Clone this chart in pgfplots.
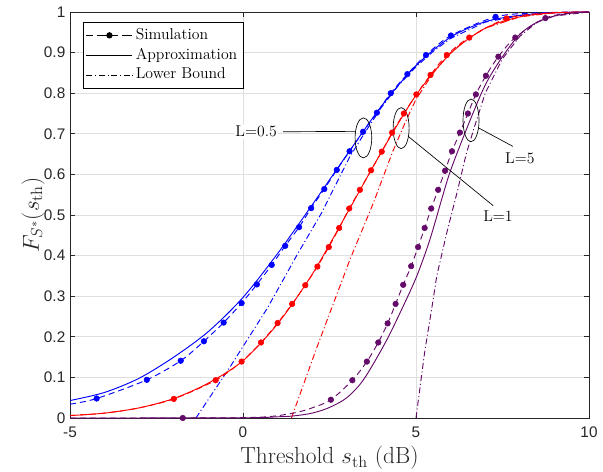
\documentclass[border=0pt]{standalone}
\usepackage{fontspec}
\usepackage{pgfplots}
\pgfplotsset{compat=1.18}
\newfontfamily\tickfont{Liberation Sans}
\definecolor{bl}{rgb}{0,0,1}
\definecolor{rd}{rgb}{1,0,0}
\definecolor{pu}{RGB}{100,10,105}
\definecolor{axc}{RGB}{38,38,38}
\definecolor{gridc}{RGB}{223,223,223}
\tikzset{
  simline/.style={line width=0.7pt, dash pattern=on 4.5pt off 3pt},
  apline/.style={line width=0.7pt},
  lbline/.style={line width=0.7pt, dash pattern=on 4.5pt off 2pt on 0.8pt off 2pt},
}
\pgfplotsset{
  simleg/.style={legend image code/.code={\draw[##1, dash pattern=on 5pt off 3pt on 8pt off 3pt] (0pt,0pt) -- (34.5pt,0pt); \draw[##1, only marks] plot coordinates {(17.25pt,0pt)};}},
  lineleg/.style={legend image code/.code={\draw[##1] (0pt,0pt) -- (34.5pt,0pt);}},
}
\begin{document}
\begin{tikzpicture}
\begin{axis}[
  scale only axis, width=389.25pt, height=304.5pt,
  xmin=-5, xmax=10, ymin=0, ymax=1,
  xtick={-5,0,5,10},
  ytick={0,0.1,0.2,0.3,0.4,0.5,0.6,0.7,0.8,0.9,1},
  yticklabels={0,0.1,0.2,0.3,0.4,0.5,0.6,0.7,0.8,0.9,1},
  grid=major, major grid style={gridc, line width=0.5pt},
  axis line style={axc, line width=0.5pt},
  tick style={axc, line width=0.5pt},
  tick align=inside, major tick length=4pt,
  ticklabel style={font=\tickfont\fontsize{11.5}{12}\selectfont, text=axc},
  xticklabel style={yshift=-3pt},
  /pgf/number format/assume math mode=true,
  xlabel={Threshold $s_{\mathrm{th}}$ (dB)},
  ylabel={$F_{S^{*}}(s_{\mathrm{th}})$},
  label style={font=\fontsize{17.5}{20}\selectfont, text=axc},
  x label style={at={(axis description cs:0.5,-0.0985)}, anchor=center},
  y label style={at={(axis description cs:-0.0713,0.5)}, anchor=center},
  legend cell align=left,
  legend style={at={(axis description cs:0.025,0.976)}, anchor=north west,
    draw=black, fill=white, line width=0.5pt,
    font=\fontsize{11.8}{13}\selectfont,
    nodes={inner sep=2.2pt, text height=8.6pt, text depth=2.9pt},
    inner xsep=2pt, inner ysep=2pt, row sep=-1pt},
]
\addlegendimage{black, simline, mark=*, mark size=2pt, mark options={solid}, simleg}
\addlegendentry{Simulation}
\addlegendimage{black, apline, lineleg}
\addlegendentry{Approximation}
\addlegendimage{black, lbline, lineleg}
\addlegendentry{Lower Bound}

% ---------- L = 0.5 (blue) ----------
\addplot[bl, apline, smooth, forget plot] coordinates {
(-5,0.043)(-4,0.063)(-3,0.098)(-2,0.150)(-1,0.213)(0,0.297)(1,0.405)(2,0.525)(3,0.648)(4,0.768)(5,0.868)(6,0.938)(7,0.976)(8,0.992)(9,0.998)(10,1)};
\addplot[bl, simline, smooth, forget plot] coordinates {
(-5,0.034)(-4.23,0.048)(-2.78,0.094)(-1.80,0.141)(-1.13,0.189)(-0.56,0.235)(-0.04,0.283)(0.40,0.329)(0.83,0.377)(1.22,0.424)(1.62,0.470)(1.97,0.517)(2.35,0.564)(2.71,0.611)(3.08,0.657)(3.47,0.705)(3.87,0.752)(4.27,0.800)(4.75,0.847)(5.29,0.894)(6.01,0.942)(7.30,0.988)(8.5,0.998)(10,1)};
\addplot[bl, only marks, mark=*, mark size=2.1pt, forget plot] coordinates {
(-4.23,0.048)(-2.78,0.094)(-1.80,0.141)(-1.13,0.189)(-0.56,0.235)(-0.04,0.283)(0.40,0.329)(0.83,0.377)(1.22,0.424)(1.62,0.470)(1.97,0.517)(2.35,0.564)(2.71,0.611)(3.08,0.657)(3.47,0.705)(3.87,0.752)(4.27,0.800)(4.75,0.847)(5.29,0.894)(6.01,0.942)(7.30,0.988)};
\addplot[bl, lbline, forget plot] coordinates {
(-1.36,0)(-0.38,0.125)(0.685,0.268)(1.16,0.34)(1.55,0.40)(2.27,0.505)(3.09,0.644)(3.5,0.70)(4,0.765)(4.5,0.82)(5,0.865)(5.5,0.903)(6,0.935)(7,0.975)(8,0.991)(9,0.998)(10,1)};

% ---------- L = 1 (red) ----------
\addplot[rd, apline, smooth, forget plot] coordinates {
(-5,0.006)(-4,0.012)(-3,0.025)(-2,0.048)(-1,0.086)(0,0.141)(1,0.232)(2,0.354)(3,0.503)(4,0.655)(5,0.795)(6,0.898)(7,0.960)(8,0.988)(9,0.998)(10,1)};
\addplot[rd, simline, smooth, forget plot] coordinates {
(-5,0.006)(-4,0.012)(-3,0.025)(-2.00,0.047)(-0.79,0.093)(-0.04,0.139)(0.52,0.186)(1.00,0.234)(1.42,0.281)(1.80,0.327)(2.15,0.373)(2.48,0.421)(2.78,0.468)(3.07,0.516)(3.38,0.562)(3.70,0.610)(4.01,0.656)(4.31,0.703)(4.65,0.750)(5.01,0.797)(5.42,0.845)(5.89,0.894)(6.54,0.937)(7.62,0.984)(8.7,0.997)(10,1)};
\addplot[rd, only marks, mark=*, mark size=2.1pt, forget plot] coordinates {
(-2.00,0.047)(-0.79,0.093)(-0.04,0.139)(0.52,0.186)(1.00,0.234)(1.42,0.281)(1.80,0.327)(2.15,0.373)(2.48,0.421)(2.78,0.468)(3.07,0.516)(3.38,0.562)(3.70,0.610)(4.01,0.656)(4.31,0.703)(4.65,0.750)(5.01,0.797)(5.42,0.845)(5.89,0.894)(6.54,0.937)(7.62,0.984)};
\addplot[rd, lbline, forget plot] coordinates {
(1.40,0)(2.11,0.168)(2.55,0.268)(3.09,0.39)(3.77,0.53)(4.33,0.657)(4.7,0.73)(5,0.785)(5.5,0.85)(6,0.9)(6.5,0.935)(7,0.96)(8,0.988)(9,0.998)(10,1)};

% ---------- L = 5 (purple) ----------
\addplot[pu, apline, smooth, forget plot] coordinates {
(-5,0)(0,0.0005)(1,0.003)(1.45,0.005)(2,0.012)(2.5,0.026)(3,0.05)(3.48,0.094)(4.11,0.185)(4.6,0.27)(5.02,0.349)(5.4,0.439)(5.74,0.538)(6,0.61)(6.5,0.72)(7,0.82)(7.5,0.89)(8,0.945)(8.5,0.975)(9,0.99)(9.5,0.997)(10,1)};
\addplot[pu, simline, smooth, forget plot] coordinates {
(-5,0)(-1.74,0)(0.5,0.002)(1.45,0.012)(2.0,0.025)(2.54,0.045)(3.16,0.093)(3.58,0.139)(3.91,0.186)(4.18,0.233)(4.41,0.281)(4.63,0.328)(4.86,0.374)(5.06,0.421)(5.25,0.468)(5.44,0.516)(5.64,0.562)(5.84,0.609)(6.04,0.657)(6.27,0.703)(6.50,0.750)(6.73,0.797)(7.02,0.843)(7.38,0.890)(7.87,0.937)(8.74,0.985)(9.5,0.998)(10,1)};
\addplot[pu, only marks, mark=*, mark size=2.1pt, forget plot] coordinates {
(-1.74,0)(2.54,0.045)(3.16,0.093)(3.58,0.139)(3.91,0.186)(4.18,0.233)(4.41,0.281)(4.63,0.328)(4.86,0.374)(5.06,0.421)(5.25,0.468)(5.44,0.516)(5.64,0.562)(5.84,0.609)(6.04,0.657)(6.27,0.703)(6.50,0.750)(6.73,0.797)(7.02,0.843)(7.38,0.890)(7.87,0.937)(8.74,0.985)};
\addplot[pu, lbline, forget plot] coordinates {
(5,0)(5.1,0.065)(5.26,0.168)(5.45,0.267)(5.6,0.35)(5.9,0.46)(6.2,0.56)(6.45,0.65)(6.7,0.72)(7.0,0.80)(7.5,0.885)(8,0.94)(8.5,0.975)(9,0.99)(10,1)};

% ---------- annotations ----------
\draw[black, line width=0.5pt] (axis cs:3.48,0.69) ellipse [x radius=6.25pt, y radius=15pt];
\draw[black, line width=0.5pt] (axis cs:4.57,0.714) ellipse [x radius=6pt, y radius=15.4pt];
\draw[black, line width=0.5pt] (axis cs:6.59,0.733) ellipse [x radius=6pt, y radius=16pt];
\draw[black, line width=0.5pt] (axis cs:1.16,0.705) -- (axis cs:3.24,0.706);
\draw[black, line width=0.5pt] (axis cs:4.77,0.694) -- (axis cs:7.23,0.523);
\draw[black, line width=0.5pt] (axis cs:6.82,0.714) -- (axis cs:7.80,0.669);
\node[fill=white, inner sep=1pt, font=\fontsize{11.8}{13}\selectfont] at (axis cs:0.38,0.705) {L=0.5};
\node[inner sep=1pt, font=\fontsize{11.8}{13}\selectfont] at (axis cs:7.37,0.498) {L=1};
\node[inner sep=1pt, font=\fontsize{11.8}{13}\selectfont] at (axis cs:8.0,0.639) {L=5};
\end{axis}
\pgfresetboundingbox
\path[use as bounding box] ([xshift=-52.5pt,yshift=-39.75pt]current axis.south west) rectangle ([xshift=10.5pt,yshift=9pt]current axis.north east);
\end{tikzpicture}
\end{document}
